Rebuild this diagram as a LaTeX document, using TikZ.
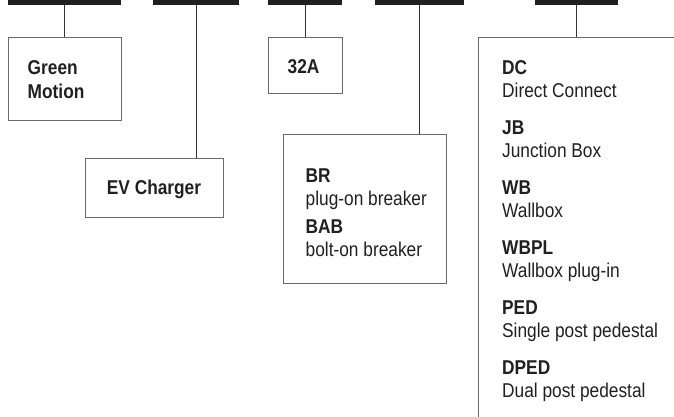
\documentclass[tikz,border=0pt]{standalone}
\usepackage{fontspec}
\setmainfont{Liberation Sans}[FakeStretch=0.865]
\usetikzlibrary{positioning}
\definecolor{ink}{HTML}{231F20}
\definecolor{boxline}{HTML}{6A6A6A}
\definecolor{stem}{HTML}{333333}
\tikzset{
  bar/.style={fill=ink,draw=none,inner sep=0pt,minimum height=5pt},
  box/.style={draw=boxline,line width=1pt,inner sep=0pt},
  link/.style={draw=stem,line width=1pt},
  txt/.style={inner sep=0pt,align=left,text=ink,font=\fontsize{20}{23}\selectfont}
}
\begin{document}
\begin{tikzpicture}[x=1pt,y=-1pt]
\useasboundingbox (0,0) rectangle (674,417);
\node[bar,minimum width=113pt] (bar1) at (64.5,2.5) {};
\node[bar,minimum width=86pt] (bar2) at (196,2.5) {};
\node[bar,minimum width=74pt] (bar3) at (305,2.5) {};
\node[bar,minimum width=89pt] (bar4) at (419.5,2.5) {};
\node[bar,minimum width=83pt] (bar5) at (576.5,2.5) {};

\node[box,minimum width=113pt,minimum height=83pt] (gm) at (64.5,79.5) {};
\node[box,minimum width=138pt,minimum height=59pt] (ev) at (154,187.5) {};
\node[box,minimum width=74pt,minimum height=56pt] (amp) at (305,66) {};
\node[box,minimum width=163pt,minimum height=149pt] (brk) at (364.5,208.5) {};
\coordinate (tl) at (478,38);
\coordinate (tr) at (674,38);
\coordinate (bl) at (478,417);

\node[txt,right=20pt of gm.west] (gmtxt) {\textbf{Green}\\[1.5pt]\textbf{Motion}};
\node[txt,yshift=-2pt] (evtxt) at (ev) {\textbf{EV Charger}};
\node[txt,right=20pt of amp.west,yshift=-1pt] (amptxt) {\textbf{32A}};
\node[txt,right=23pt of brk.west,yshift=-4pt] (brktxt) {\textbf{BR}\\plug-on breaker\\[5pt]\textbf{BAB}\\bolt-on breaker};
\node[txt,anchor=north west] (list) at (502,60) {\textbf{DC}\\Direct Connect\\[14pt]\textbf{JB}\\Junction Box\\[14pt]\textbf{WB}\\Wallbox\\[14pt]\textbf{WBPL}\\Wallbox plug-in\\[14pt]\textbf{PED}\\Single post pedestal\\[14pt]\textbf{DPED}\\Dual post pedestal};

\draw[link] (bar1) -- (gm);
\draw[link] (bar2.south) -- (bar2.south |- ev.north);
\draw[link] (bar3) -- (amp);
\draw[link] (bar4.south) -- (bar4.south |- brk.north);
\draw[link] (bar5.south) -- (bar5.south |- tl);
\draw[box] (tr) -- (tl) -- (bl);
\end{tikzpicture}
\end{document}
